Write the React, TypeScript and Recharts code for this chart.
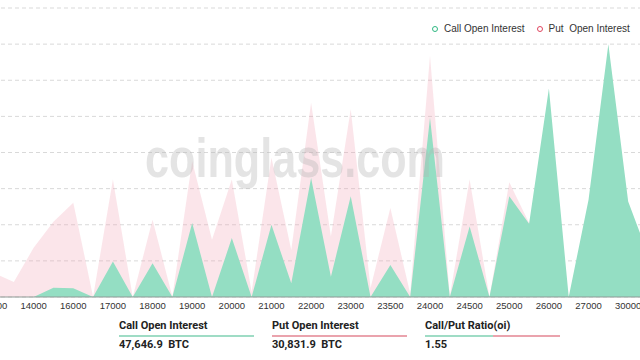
import { AreaChart, Area, XAxis, YAxis, CartesianGrid } from 'recharts';

// strike prices on the x axis (every other one gets a label)
const strikes = [
  '12000', '13000', '14000', '15000', '16000', '16500', '17000', '17500', '18000', '18500',
  '19000', '19500', '20000', '20500', '21000', '21500', '22000', '22500', '23000', '23250',
  '23500', '23750', '24000', '24250', '24500', '24750', '25000', '25500', '26000', '26500',
  '27000', '28000', '30000', '32000',
];

const callOI = [
  0, 0, 0, 258, 240, 0, 980, 0, 936, 0,
  2047, 0, 1630, 0, 2000, 380, 3297, 564, 2786, 0,
  889, 0, 4963, 0, 1953, 0, 2786, 2028, 5769, 0,
  2694, 7000, 2647, 1175,
];

const putOI = [
  667, 417, 1361, 2083, 2611, 10, 3250, 0, 2139, 10,
  3758, 1583, 3250, 147, 3853, 1300, 5380, 1675, 5194, 250,
  2463, 100, 6675, 30, 3250, 0, 3175, 2050, 2500, 0,
  1500, 3000, 1200, 600,
];

const yTicks = [0, 1000, 2000, 3000, 4000, 5000, 6000, 7000, 8000];

const summary = [
  { title: 'Call Open Interest', value: '47,646.9  BTC', line: '#9fdcc5' },
  { title: 'Put Open Interest', value: '30,831.9  BTC', line: '#eaa3ad' },
  { title: 'Call/Put Ratio(oi)', value: '1.55', line: 'linear-gradient(to right, #9fdcc5 50%, #eaa3ad 50%)' },
];

const CALL_FILL = '#94dec3';
const PUT_FILL = '#f0a0b4';

export default function App() {
  const data = strikes.map((strike, i) => ({ strike, call: callOI[i], put: putOI[i] }));

  return (
    <div style={{ position: 'absolute', left: 0, top: 0, width: 640, height: 360, overflow: 'hidden', background: '#fff', fontFamily: 'Roboto, sans-serif' }}>
      <div style={{ position: 'absolute', left: -6, top: 0 }}>
        <AreaChart width={654} height={327} data={data} margin={{ top: 8, right: 0, bottom: 0, left: 0 }}>
          <CartesianGrid vertical={false} stroke="#d9d9d9" strokeDasharray="4 3" />
          <XAxis
            dataKey="strike"
            interval={1}
            height={30}
            tickLine={false}
            tickSize={0}
            tickMargin={5}
            axisLine={{ stroke: '#8f9b97' }}
            tick={{ fontSize: 9.5, fill: '#333', fontFamily: 'Liberation Sans, Arial, sans-serif' }}
          />
          <YAxis hide domain={[0, 8000]} ticks={yTicks} />
          <Area type="linear" dataKey="put" stroke="none" fill={PUT_FILL} fillOpacity={0.28} isAnimationActive={false} />
          <Area type="linear" dataKey="call" stroke="none" fill={CALL_FILL} fillOpacity={1} isAnimationActive={false} />
        </AreaChart>
      </div>

      {/* watermark */}
      <svg width={640} height={360} style={{ position: 'absolute', left: 0, top: 0, pointerEvents: 'none' }}>
        <text x={145} y={177} fontSize={55} fontWeight="bold" fontFamily="Liberation Sans, Arial, sans-serif" fill="#b4b4b4" fillOpacity={0.36} textLength={300} lengthAdjust="spacingAndGlyphs">
          coinglass.com
        </text>
      </svg>

      {/* legend */}
      <div style={{ position: 'absolute', top: 23, left: 432, display: 'flex', alignItems: 'center', fontSize: 10, color: '#333', fontFamily: 'Liberation Sans, Arial, sans-serif', whiteSpace: 'pre' }}>
        <span style={{ width: 4, height: 4, borderRadius: '50%', border: '1.5px solid #2fb882', marginRight: 6 }} />
        <span style={{ marginRight: 12 }}>Call Open Interest</span>
        <span style={{ width: 4, height: 4, borderRadius: '50%', border: '1.5px solid #e0455f', marginRight: 6 }} />
        <span>Put  Open Interest</span>
      </div>

      {/* summary blocks */}
      {summary.map((s, i) => (
        <div key={s.title} style={{ position: 'absolute', top: 318, left: 119 + i * 153, width: 135 }}>
          <div style={{ height: 17, lineHeight: '16px', fontSize: 11, fontWeight: 700, color: '#222' }}>{s.title}</div>
          <div style={{ height: 1.5, background: s.line }} />
          <div style={{ lineHeight: '15px', fontSize: 11, fontWeight: 700, color: '#222', whiteSpace: 'pre' }}>{s.value}</div>
        </div>
      ))}
    </div>
  );
}
